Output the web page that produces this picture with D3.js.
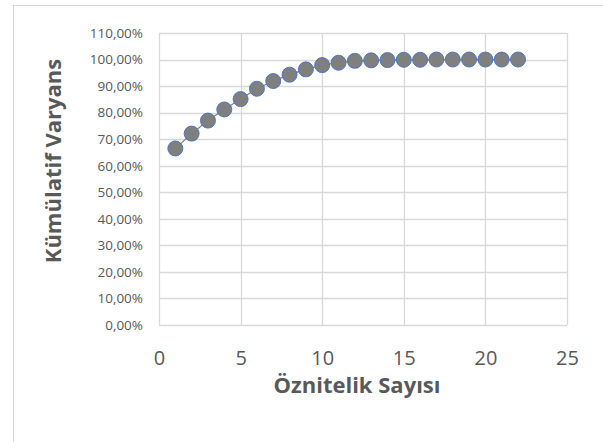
<!DOCTYPE html>
<html>
<head>
<meta charset="utf-8">
<script src="https://cdn.jsdelivr.net/npm/d3@7"></script>
<style>
  html, body { margin: 0; padding: 0; background: #fff; }
  svg { display: block; }
</style>
</head>
<body>
<svg id="chart" width="603" height="442"></svg>
<script>
// Number of features (x) and cumulative explained variance in percent (y)
const featureCounts = [1, 2, 3, 4, 5, 6, 7, 8, 9, 10, 11, 12, 13, 14, 15, 16, 17, 18, 19, 20, 21, 22];
const cumulativeVariance = [66.5, 72.1, 77.0, 81.2, 85.1, 89.0, 91.9, 94.3, 96.3, 97.9, 98.8, 99.5, 99.7, 99.8, 99.9, 99.9, 100, 100, 100, 100, 100, 100];
const xTicks = [0, 5, 10, 15, 20, 25];
const yTicks = [0, 10, 20, 30, 40, 50, 60, 70, 80, 90, 100, 110];
const xTitle = "Öznitelik Sayısı";
const yTitle = "Kümülatif Varyans";

const svg = d3.select("#chart");
const font = "'Open Sans', 'Noto Sans', sans-serif";
const textColor = "#595959";
const gridColor = "#d9d9d9";

// Chart frame
svg.append("rect")
  .attr("x", 13.5).attr("y", 5.5)
  .attr("width", 700).attr("height", 500)
  .attr("fill", "#fff").attr("stroke", gridColor).attr("stroke-width", 1);

const plot = { left: 159, right: 567, top: 33, bottom: 325 };

const x = d3.scaleLinear().domain([0, 25]).range([plot.left, plot.right]);
const y = d3.scaleLinear().domain([0, 110]).range([plot.bottom, plot.top]);

// Gridlines
const g = svg.append("g");
g.selectAll("line.h").data(yTicks).join("line")
  .attr("x1", plot.left).attr("x2", plot.right)
  .attr("y1", d => Math.round(y(d)) + 0.5).attr("y2", d => Math.round(y(d)) + 0.5)
  .attr("stroke", gridColor).attr("stroke-width", 1.3);
g.selectAll("line.v").data(xTicks).join("line")
  .attr("y1", plot.top).attr("y2", plot.bottom)
  .attr("x1", d => Math.round(x(d)) + 0.5).attr("x2", d => Math.round(x(d)) + 0.5)
  .attr("stroke", gridColor).attr("stroke-width", 1.3);

// Axes (tick labels only)
const fmtPct = d => d3.format(".2f")(d).replace(".", ",") + "%";

const yAxis = svg.append("g")
  .attr("transform", `translate(${plot.left},0)`)
  .call(d3.axisLeft(y).tickValues(yTicks).tickFormat(fmtPct).tickSize(0).tickPadding(16));
yAxis.select(".domain").remove();
yAxis.selectAll("text")
  .attr("fill", textColor).style("font-family", font).style("font-size", "13.5px");

const xAxis = svg.append("g")
  .attr("transform", `translate(0,${plot.bottom})`)
  .call(d3.axisBottom(x).tickValues(xTicks).tickFormat(d3.format("d")).tickSize(0));
xAxis.select(".domain").remove();
xAxis.selectAll("text")
  .attr("y", 40).attr("dy", null)
  .attr("fill", textColor).style("font-family", font).style("font-size", "20px");

// Axis titles
svg.append("text")
  .attr("x", 357).attr("y", 393)
  .attr("text-anchor", "middle")
  .attr("fill", textColor).style("font-family", font)
  .style("font-size", "22px").style("font-weight", "bold")
  .text(xTitle);

svg.append("text")
  .attr("transform", `translate(61,161) rotate(-90)`)
  .attr("text-anchor", "middle")
  .attr("fill", textColor).style("font-family", font)
  .style("font-size", "22px").style("font-weight", "bold")
  .text(yTitle);

// Series line and markers
const data = featureCounts.map((f, i) => ({ f, v: cumulativeVariance[i] }));

svg.append("path")
  .datum(data)
  .attr("fill", "none").attr("stroke", "#7f7f7f").attr("stroke-width", 1.2)
  .attr("d", d3.line().x(d => x(d.f)).y(d => y(d.v)));

svg.selectAll("circle.pt").data(data).join("circle")
  .attr("class", "pt")
  .attr("cx", d => x(d.f)).attr("cy", d => y(d.v))
  .attr("r", 7.5)
  .attr("fill", "#7f7f7f").attr("stroke", "#4472c4").attr("stroke-width", 0.9);
</script>
</body>
</html>
